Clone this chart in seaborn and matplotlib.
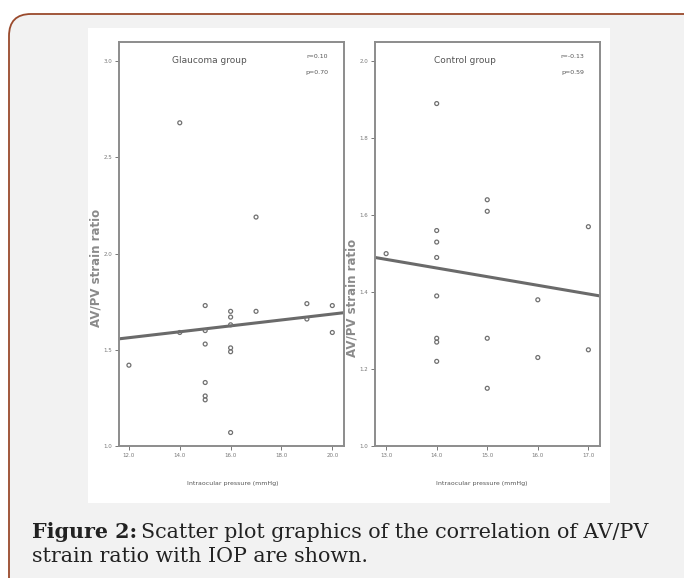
import matplotlib
matplotlib.use("Agg")
import matplotlib.pyplot as plt
import seaborn as sns
import pandas as pd
from matplotlib.patches import FancyBboxPatch, Rectangle

# data
glaucoma_iop = [12.0, 14.0, 14.0, 15.0, 15.0, 15.0, 15.0, 15.0, 15.0, 16.0, 16.0,
                16.0, 16.0, 16.0, 16.0, 17.0, 17.0, 19.0, 19.0, 20.0, 20.0]
glaucoma_ratio = [1.42, 1.59, 2.68, 1.73, 1.60, 1.53, 1.33, 1.26, 1.24, 1.70, 1.67,
                  1.63, 1.51, 1.49, 1.07, 1.70, 2.19, 1.74, 1.66, 1.73, 1.59]
glaucoma_fit_x = [11.61, 20.46]
glaucoma_fit_y = [1.557, 1.693]

control_iop = [13.0, 14.0, 14.0, 14.0, 14.0, 14.0, 14.0, 14.0, 14.0, 15.0, 15.0,
               15.0, 15.0, 16.0, 16.0, 17.0, 17.0]
control_ratio = [1.50, 1.89, 1.56, 1.53, 1.49, 1.39, 1.28, 1.27, 1.22, 1.64, 1.61,
                 1.28, 1.15, 1.38, 1.23, 1.57, 1.25]
control_fit_x = [12.78, 17.23]
control_fit_y = [1.49, 1.39]

glaucoma_xticks = [12.0, 14.0, 16.0, 18.0, 20.0]
glaucoma_yticks = [1.0, 1.5, 2.0, 2.5, 3.0]
control_xticks = [13.0, 14.0, 15.0, 16.0, 17.0]
control_yticks = [1.0, 1.2, 1.4, 1.6, 1.8, 2.0]

sns.set_theme(style="ticks")

W, H = 684, 578
fig = plt.figure(figsize=(W / 100, H / 100), dpi=100)
fig.patch.set_facecolor("white")

# framed page background
box = FancyBboxPatch((9, -30), 720, 578 - 14 + 30,
                     boxstyle="round,pad=0,rounding_size=22",
                     facecolor="#f2f2f2", edgecolor="#9a4a2c", linewidth=1.3,
                     transform=None, zorder=-3)
fig.patches.append(box)
img = Rectangle((88 / W, 1 - 503 / H), (610 - 88) / W, (503 - 28) / H,
                transform=fig.transFigure, facecolor="white", edgecolor="none", zorder=-2)
fig.patches.append(img)


def panel(left, xs, ys, fx, fy, xlim, ylim, xt, yt, title, r, p, title_x):
    ax = fig.add_axes([left / W, 1 - 446 / H, 225 / W, 404 / H])
    ax.set_facecolor("white")
    df = pd.DataFrame({"iop": xs, "ratio": ys})
    sns.scatterplot(data=df, x="iop", y="ratio", ax=ax, marker="o", s=8,
                    facecolor="none", edgecolor="#707070", linewidth=0.9, zorder=3)
    fit = pd.DataFrame({"iop": fx, "ratio": fy})
    sns.lineplot(data=fit, x="iop", y="ratio", ax=ax, color="#6a6a6a", linewidth=2.2)
    ax.set_xlim(xlim)
    ax.set_ylim(ylim)
    ax.set_xticks(xt)
    ax.set_yticks(yt)
    ax.set_xticklabels([f"{v:.1f}" for v in xt])
    ax.set_yticklabels([f"{v:.1f}" for v in yt])
    ax.tick_params(labelsize=4, colors="#777777", length=3, width=0.7, pad=2)
    for s in ax.spines.values():
        s.set_color("#8c8c8c")
        s.set_linewidth(1.4)
    ax.set_xlabel("")
    ax.set_ylabel("")
    ax.text(title_x, 0.955, title, transform=ax.transAxes, ha="center", va="center",
            fontsize=6.5, color="#555555")
    ax.text(0.93, 0.965, r, transform=ax.transAxes, ha="right", va="center",
            fontsize=4.5, color="#555555")
    ax.text(0.93, 0.925, p, transform=ax.transAxes, ha="right", va="center",
            fontsize=4.5, color="#555555")
    return ax


panel(119, glaucoma_iop, glaucoma_ratio, glaucoma_fit_x, glaucoma_fit_y,
      (11.61, 20.46), (1.0, 3.10), glaucoma_xticks, glaucoma_yticks,
      "Glaucoma group", "r=0.10", "p=0.70", 0.40)
panel(375, control_iop, control_ratio, control_fit_x, control_fit_y,
      (12.78, 17.23), (1.0, 2.05), control_xticks, control_yticks,
      "Control group", "r=-0.13", "p=0.59", 0.40)

# axis titles
fig.text(96 / W, 1 - 268 / H, "AV/PV strain ratio", rotation=90, ha="center",
         va="center", fontsize=8.5, fontweight="bold", color="#8a8a8a")
fig.text(352 / W, 1 - 298 / H, "AV/PV strain ratio", rotation=90, ha="center",
         va="center", fontsize=8.5, fontweight="bold", color="#8a8a8a")
fig.text(233 / W, 1 - 483 / H, "Intraocular pressure (mmHg)", ha="center",
         va="center", fontsize=4.5, color="#555555")
fig.text(482 / W, 1 - 483 / H, "Intraocular pressure (mmHg)", ha="center",
         va="center", fontsize=4.5, color="#555555")

# caption
serif = ["DejaVu Serif"]
t1 = fig.text(32 / W, 1 - 532 / H, "Figure 2:", ha="left", va="center",
              fontsize=14.9, fontweight="bold", family=serif, color="#222222")
fig.canvas.draw()
bb = t1.get_window_extent()
fig.text((bb.x1 + 4) / W, 1 - 532 / H, "Scatter plot graphics of the correlation of AV/PV",
         ha="left", va="center", fontsize=14.9, family=serif, color="#222222")
fig.text(32 / W, 1 - 557 / H, "strain ratio with IOP are shown.", ha="left",
         va="center", fontsize=14.9, family=serif, color="#222222")

fig.savefig("out.png", dpi=100, facecolor=fig.get_facecolor())
